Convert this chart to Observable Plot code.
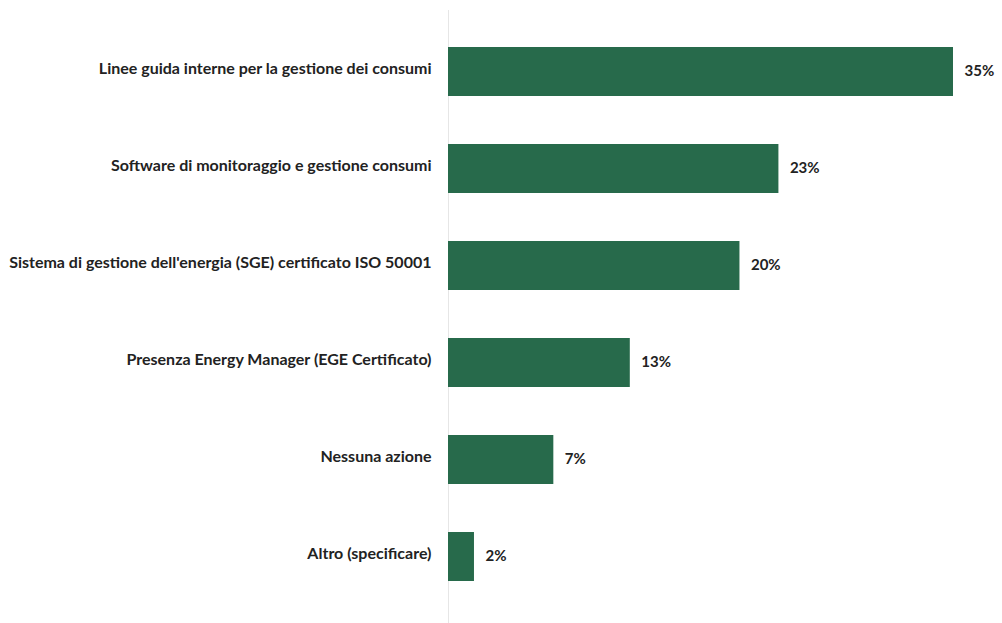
<!DOCTYPE html>
<html>
<head>
<meta charset="utf-8">
<script src="https://cdn.jsdelivr.net/npm/d3@7"></script>
<script src="https://cdn.jsdelivr.net/npm/@observablehq/plot@0.6"></script>
<style>
  html, body { margin: 0; padding: 0; background: #fff; }
  #chart { width: 1002px; height: 623px; }
</style>
</head>
<body>
<div id="chart"></div>
<script>
const categories = [
  "Linee guida interne per la gestione dei consumi",
  "Software di monitoraggio e gestione consumi",
  "Sistema di gestione dell'energia (SGE) certificato ISO 50001",
  "Presenza Energy Manager (EGE Certificato)",
  "Nessuna azione",
  "Altro (specificare)"
];
const values = [35.0, 22.9, 20.2, 12.6, 7.3, 1.8];
const valueLabels = ["35%", "23%", "20%", "13%", "7%", "2%"];

const data = categories.map((c, i) => ({category: c, value: values[i], label: valueLabels[i]}));

const chart = Plot.plot({
  width: 1002,
  height: 623,
  marginLeft: 448,
  marginRight: 49,
  marginTop: 21,
  marginBottom: 17,
  style: {fontFamily: "Lato, 'Noto Sans', sans-serif", fontSize: "16px", background: "#fff"},
  x: {domain: [0, 35], axis: null},
  y: {domain: categories, paddingInner: 0.5, paddingOuter: 0.25, label: null, axis: null},
  marks: [
    Plot.ruleX([0], {stroke: "#e6e6e6", strokeWidth: 1, insetTop: -11, insetBottom: -17}),
    Plot.barX(data, {x: "value", y: "category", fill: "#276a4b"}),
    Plot.text(data, {x: "value", y: "category", text: "label", textAnchor: "start", dx: 11, dy: -1, fill: "#222", fontWeight: 700, fontSize: 15}),
    Plot.text(data, {x: 0, y: "category", text: "category", textAnchor: "end", dx: -17, dy: -3, fill: "#222", fontWeight: 700, fontSize: 16})
  ]
});
document.getElementById("chart").append(chart);
</script>
</body>
</html>
